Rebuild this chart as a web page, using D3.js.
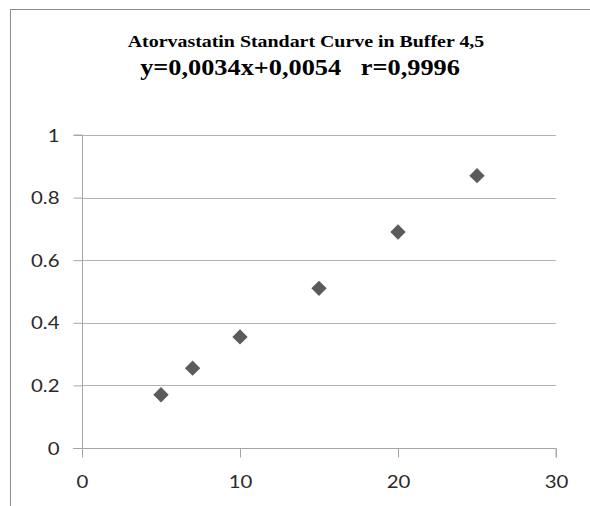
<!DOCTYPE html>
<html lang="en">
<head>
<meta charset="UTF-8" />
<title>Atorvastatin Standart Curve</title>
<script src="https://d3js.org/d3.v7.min.js"></script>
<style>
  body { margin: 0; background: #fff; }
  svg { display: block; }
  .tick text { font-family: Lato, "Open Sans", sans-serif; font-size: 17px; fill: #2a2a2a; }
  .title { font-family: "Liberation Serif", "Times New Roman", serif; font-weight: bold; fill: #000; }
</style>
</head>
<body>
<script>
// concentration (x) and absorbance (y)
const conc = [5, 7, 10, 15, 20, 25];
const absorb = [0.17, 0.255, 0.355, 0.51, 0.69, 0.87];
const xTicks = [0, 10, 20, 30];
const yTicks = [0, 0.2, 0.4, 0.6, 0.8, 1];
const titleLine1 = "Atorvastatin Standart Curve in Buffer 4,5";
const titleLine2 = "y=0,0034x+0,0054   r=0,9996";

const W = 590, H = 506;
const stretch = 1.2; // the source image is a bit wider than tall
const svg = d3.select("body").append("svg").attr("width", W).attr("height", H);

// outer chart frame (runs off the right and bottom of the shot)
svg.append("rect")
  .attr("x", 10.5).attr("y", 9.5)
  .attr("width", 700).attr("height", 700)
  .attr("fill", "#fff").attr("stroke", "#8c8c8c");

const x = d3.scaleLinear().domain([0, 30]).range([82, 556]);
const y = d3.scaleLinear().domain([0, 1]).range([448, 135]);

// gridlines
svg.append("g")
  .selectAll("line")
  .data(yTicks.filter(d => d > 0))
  .join("line")
  .attr("x1", x(0)).attr("x2", x(30))
  .attr("y1", d => Math.round(y(d)) + 0.5).attr("y2", d => Math.round(y(d)) + 0.5)
  .attr("stroke", "#b3b3b3");

const yAxis = svg.append("g")
  .attr("transform", `translate(${x(0) + 0.5},0)`)
  .call(d3.axisLeft(y).tickValues(yTicks).tickSize(9).tickPadding(14)
    .tickFormat(d => d === 0 || d === 1 ? d : d3.format(".1f")(d)));

const xAxis = svg.append("g")
  .attr("transform", `translate(0,${y(0) + 0.5})`)
  .call(d3.axisBottom(x).tickValues(xTicks).tickSize(9).tickPadding(18));

// widen the tick labels in place
yAxis.selectAll(".tick text").each(function() {
  const t = d3.select(this);
  t.attr("transform", `translate(${t.attr("x")},0) scale(${stretch},1)`)
    .attr("x", 0).attr("dy", "0.36em");
});
xAxis.selectAll(".tick text").each(function() {
  const t = d3.select(this);
  t.attr("transform", `translate(0,${t.attr("y")}) scale(${stretch},1)`)
    .attr("y", 0);
});

[xAxis, yAxis].forEach(a => {
  a.select(".domain").attr("stroke", "#a6a6a6");
  a.selectAll(".tick line").attr("stroke", "#a6a6a6");
});
// axis lines run through the zero ticks
yAxis.select(".domain").attr("d", `M-9,${y(1)}H0V${y(0) + 9}`);
xAxis.select(".domain").attr("d", `M${x(0) - 9},0H${x(30)}V9`);

// diamond markers
const diamond = d3.symbol().type(d3.symbolDiamond2).size(150);
svg.append("g")
  .selectAll("path")
  .data(conc.map((c, i) => ({ c, a: absorb[i] })))
  .join("path")
  .attr("d", diamond)
  .attr("transform", d => `translate(${x(d.c)},${y(d.a)})`)
  .attr("fill", "#5b5b5b");

// titles (the original is stretched sideways a little)
svg.append("text")
  .attr("class", "title")
  .attr("transform", "translate(306,47) scale(1.17,1)")
  .attr("text-anchor", "middle")
  .style("font-size", "17px")
  .text(titleLine1);

svg.append("text")
  .attr("class", "title")
  .attr("transform", "translate(300,75) scale(1.17,1)")
  .attr("text-anchor", "middle")
  .attr("xml:space", "preserve")
  .style("white-space", "pre")
  .style("font-size", "22.5px")
  .text(titleLine2);
</script>
</body>
</html>
